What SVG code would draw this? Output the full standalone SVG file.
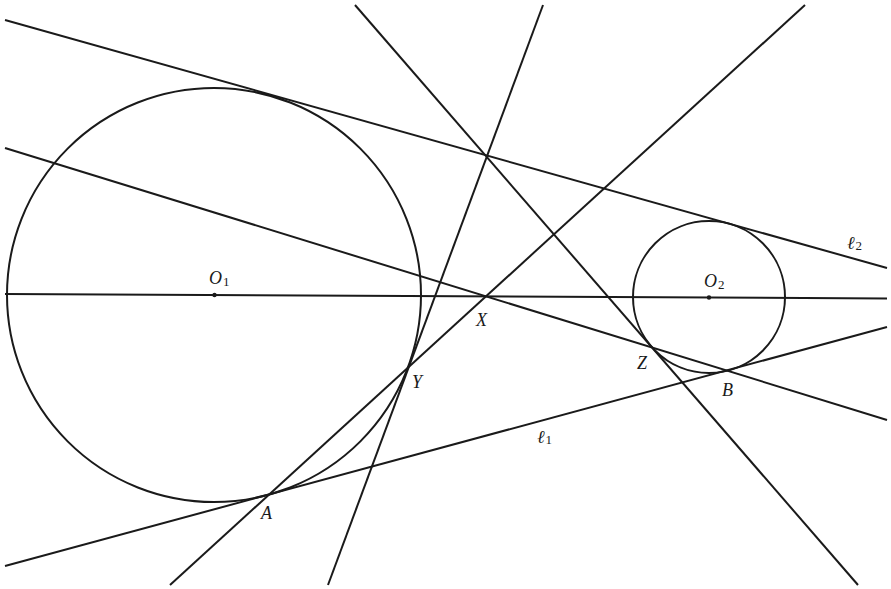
<svg xmlns="http://www.w3.org/2000/svg" width="891" height="589" viewBox="0 0 891 589">
<style>
.ln{stroke:#1a1a1a;stroke-width:2;fill:none;stroke-linecap:butt}
.lbl{font-family:"Liberation Serif","DejaVu Serif",serif;font-style:italic;font-size:18px;fill:#1a1a1a}
.sub{font-family:"Liberation Serif","DejaVu Serif",serif;font-style:normal;font-size:13px;fill:#1a1a1a}
.dot{fill:#1a1a1a}
</style>
<rect width="891" height="589" fill="#fff"/>
<g id="circle-O1">
<circle class="ln" cx="214" cy="295" r="207"/>
<circle class="dot" cx="214.5" cy="295" r="2.2"/>
<text class="lbl" x="209" y="284">O<tspan class="sub" dx="1" dy="2">1</tspan></text>
</g>
<g id="circle-O2">
<circle class="ln" cx="709" cy="297" r="76"/>
<circle class="dot" cx="709" cy="297.5" r="2.2"/>
<text class="lbl" x="704" y="287">O<tspan class="sub" dx="1" dy="2">2</tspan></text>
</g>
<g id="connectors">
<line class="ln" x1="5" y1="294" x2="887" y2="298.5"/>
<line class="ln" x1="5" y1="20" x2="887" y2="268"/>
<line class="ln" x1="5" y1="566" x2="887" y2="327"/>
<line class="ln" x1="5" y1="148" x2="887" y2="420"/>
<line class="ln" x1="355" y1="5" x2="858" y2="585"/>
<line class="ln" x1="543" y1="5" x2="328" y2="585"/>
<line class="ln" x1="805" y1="5" x2="170" y2="585"/>
</g>
<g id="labels">
<text class="lbl" x="476" y="326">X</text>
<text class="lbl" x="412" y="388">Y</text>
<text class="lbl" x="637" y="369">Z</text>
<text class="lbl" x="722" y="396">B</text>
<text class="lbl" x="261" y="519">A</text>
<text class="lbl" x="537" y="443">ℓ<tspan class="sub" dx="1" dy="1">1</tspan></text>
<text class="lbl" x="847" y="249">ℓ<tspan class="sub" dx="1" dy="1">2</tspan></text>
</g>
</svg>
